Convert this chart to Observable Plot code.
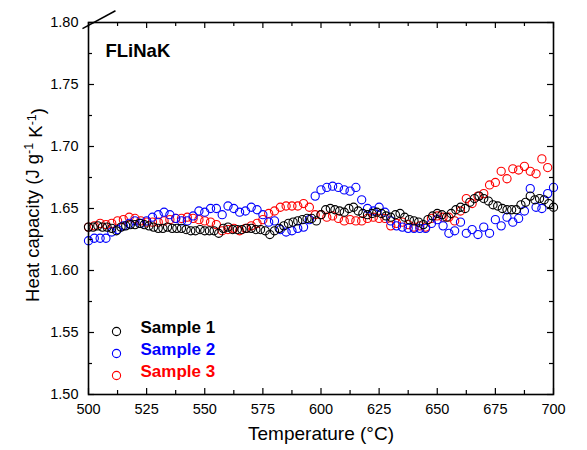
<!DOCTYPE html>
<html><head><meta charset="utf-8">
<script src="https://cdn.jsdelivr.net/npm/d3@7"></script>
<script src="https://cdn.jsdelivr.net/npm/@observablehq/plot@0.6"></script>
<style>body{margin:0;background:#fff} #chart{width:587px;height:450px}</style>
</head><body><div id="chart"></div>
<script>
// Temperatures (°C) for Sample 1 (2 °C step) and Samples 2 & 3 (2.5 °C step)
const temps1 = [500,502,504,506,508,510,512,514,516,518,520,522,524,526,528,530,532,534,536,538,540,542,544,546,548,550,552,554,556,558,560,562,564,566,568,570,572,574,576,578,580,582,584,586,588,590,592,594,596,598,600,602,604,606,608,610,612,614,616,618,620,622,624,626,628,630,632,634,636,638,640,642,644,646,648,650,652,654,656,658,660,662,664,666,668,670,672,674,676,678,680,682,684,686,688,690,692,694,696,698,700];
const temps23 = [500,502.5,505,507.5,510,512.5,515,517.5,520,522.5,525,527.5,530,532.5,535,537.5,540,542.5,545,547.5,550,552.5,555,557.5,560,562.5,565,567.5,570,572.5,575,577.5,580,582.5,585,587.5,590,592.5,595,597.5,600,602.5,605,607.5,610,612.5,615,617.5,620,622.5,625,627.5,630,632.5,635,637.5,640,642.5,645,647.5,650,652.5,655,657.5,660,662.5,665,667.5,670,672.5,675,677.5,680,682.5,685,687.5,690,692.5,695,697.5,700];

// Heat capacity (J g-1 K-1)
const sample1 = [
1.635,1.635,1.636,1.635,1.635,1.634,1.632,1.635,1.636,1.637,
1.637,1.638,1.637,1.636,1.635,1.634,1.634,1.635,1.634,1.634,
1.634,1.633,1.632,1.632,1.633,1.632,1.632,1.632,1.630,1.634,
1.635,1.633,1.633,1.633,1.634,1.634,1.633,1.633,1.632,1.629,
1.632,1.634,1.636,1.638,1.639,1.640,1.641,1.642,1.642,1.640,
1.645,1.649,1.650,1.649,1.648,1.647,1.650,1.651,1.648,1.646,
1.645,1.646,1.647,1.646,1.644,1.643,1.645,1.646,1.643,1.641,
1.640,1.639,1.637,1.641,1.644,1.646,1.645,1.643,1.646,1.649,
1.651,1.650,1.655,1.658,1.660,1.658,1.656,1.653,1.652,1.650,
1.649,1.649,1.649,1.653,1.655,1.660,1.657,1.658,1.657,1.654,
1.651];
const sample2 = [
1.624,1.626,1.626,1.626,1.631,1.633,1.636,1.638,1.640,1.638,
1.640,1.643,1.645,1.647,1.645,1.642,1.640,1.640,1.644,1.648,
1.647,1.650,1.650,1.645,1.652,1.650,1.647,1.648,1.651,1.649,
1.645,1.639,1.640,1.633,1.631,1.632,1.634,1.635,1.641,1.660,
1.665,1.667,1.668,1.667,1.665,1.664,1.667,1.657,1.650,1.648,
1.651,1.647,1.640,1.636,1.635,1.634,1.634,1.634,1.634,1.638,
1.641,1.636,1.630,1.632,1.639,1.630,1.633,1.629,1.635,1.630,
1.641,1.636,1.643,1.639,1.642,1.648,1.666,1.651,1.650,1.662,
1.667];
const sample3 = [
1.635,1.636,1.638,1.637,1.638,1.640,1.641,1.643,1.642,1.640,
1.639,1.639,1.639,1.640,1.641,1.642,1.642,1.643,1.642,1.641,
1.640,1.639,1.637,1.632,1.633,1.634,1.632,1.634,1.636,1.638,
1.641,1.646,1.648,1.651,1.652,1.652,1.652,1.654,1.651,1.645,
1.645,1.643,1.644,1.642,1.640,1.641,1.640,1.640,1.642,1.643,
1.642,1.642,1.636,1.638,1.639,1.637,1.635,1.636,1.635,1.642,
1.644,1.643,1.643,1.640,1.648,1.658,1.654,1.660,1.662,1.669,
1.671,1.680,1.674,1.682,1.681,1.684,1.680,1.678,1.690,1.683,
NaN];

const seriesNames = ["Sample 1","Sample 2","Sample 3"];
const seriesColors = ["#000000","#0000ff","#ff0000"];
const xMajor = [500,525,550,575,600,625,650,675,700];
const xMinor = [512.5,537.5,562.5,587.5,612.5,637.5,662.5,687.5];
const yMajor = [1.50,1.55,1.60,1.65,1.70,1.75,1.80];
const yMinor = [1.525,1.575,1.625,1.675,1.725,1.775];
const axisBreak = [{x1: 497.4, y1: 1.7950, x2: 511.6, y2: 1.8095}];
const panelLabel = ["FLiNaK"];

const s1 = temps1.map((t,i)=>({t, v: sample1[i]}));
const s2 = temps23.map((t,i)=>({t, v: sample2[i]}));
const s3 = temps23.map((t,i)=>({t, v: sample3[i]}));

const W = 587, H = 450, mL = 88, mR = 34, mT = 22, mB = 56;
const pw = W - mL - mR, ph = H - mT - mB;
const font = "'Liberation Sans', Arial, Helvetica, sans-serif";
const R = 4.1;

const plot = Plot.plot({
  width: W, height: H,
  marginLeft: mL, marginRight: mR, marginTop: mT, marginBottom: mB,
  style: {fontFamily: font, background: "white", overflow: "visible", color: "black"},
  x: {domain: [500, 700]},
  y: {domain: [1.5, 1.8]},
  marks: [
    Plot.dot(s3, {x: "t", y: "v", r: R, stroke: seriesColors[2], strokeWidth: 1.1}),
    Plot.dot(s2, {x: "t", y: "v", r: R, stroke: seriesColors[1], strokeWidth: 1.1}),
    Plot.dot(s1, {x: "t", y: "v", r: R, stroke: seriesColors[0], strokeWidth: 1.1}),
    Plot.frame({stroke: "black", strokeWidth: 1.6}),
    // inward ticks on all four sides
    Plot.ruleX(xMajor, {x: d => d, insetTop: ph - 6, strokeWidth: 1.2}),
    Plot.ruleX(xMinor, {x: d => d, insetTop: ph - 4, strokeWidth: 1.2}),
    Plot.ruleX(xMajor, {x: d => d, insetBottom: ph - 6, strokeWidth: 1.2}),
    Plot.ruleX(xMinor, {x: d => d, insetBottom: ph - 4, strokeWidth: 1.2}),
    Plot.ruleY(yMajor, {y: d => d, insetRight: pw - 6, strokeWidth: 1.2}),
    Plot.ruleY(yMinor, {y: d => d, insetRight: pw - 4, strokeWidth: 1.2}),
    Plot.ruleY(yMajor, {y: d => d, insetLeft: pw - 6, strokeWidth: 1.2}),
    Plot.ruleY(yMinor, {y: d => d, insetLeft: pw - 4, strokeWidth: 1.2}),
    Plot.axisX({ticks: xMajor, tickSize: 0, tickPadding: 9, fontSize: 14.5, label: null, tickFormat: d => String(d)}),
    Plot.axisY({ticks: yMajor, tickSize: 0, tickPadding: 10, fontSize: 14.5, label: null, tickFormat: d3.format(".2f")}),
    Plot.link(axisBreak, {x1: "x1", y1: "y1", x2: "x2", y2: "y2", stroke: "black", strokeWidth: 1.5}),
    Plot.text(panelLabel, {frameAnchor: "top-left", dx: 17, dy: 21, text: d => d, textAnchor: "start", fontWeight: "bold", fontSize: 18.5, fill: "black"}),
    ...seriesNames.map((name, i) => Plot.dot([name], {frameAnchor: "bottom-left", dx: 28, dy: -63 + 22 * i, r: R, stroke: seriesColors[i], strokeWidth: 1.1})),
    ...seriesNames.map((name, i) => Plot.text([name], {frameAnchor: "bottom-left", dx: 52, dy: -62 + 22 * i, text: d => d, textAnchor: "start", fontWeight: "bold", fontSize: 17, fill: seriesColors[i]})),
    Plot.text(["Temperature (\u00B0C)"], {frameAnchor: "bottom", dy: 45, text: d => d, fontSize: 19, fill: "black"})
  ]
});

// y-axis title with superscripts
const svg = d3.select(plot);
const yt = svg.append("text")
  .attr("transform", `translate(39,${mT + ph / 2 - 3}) rotate(-90)`)
  .attr("text-anchor", "middle")
  .attr("font-family", font)
  .attr("font-size", 18.5)
  .attr("fill", "black");
yt.append("tspan").text("Heat capacity (J g");
yt.append("tspan").attr("dy", "-0.45em").attr("font-size", 12.5).text("-1");
yt.append("tspan").attr("dy", "0.45em").text(" K");
yt.append("tspan").attr("dy", "-0.45em").attr("font-size", 12.5).text("-1");
yt.append("tspan").attr("dy", "0.45em").text(")");

document.getElementById("chart").appendChild(plot);
</script>
</body></html>
